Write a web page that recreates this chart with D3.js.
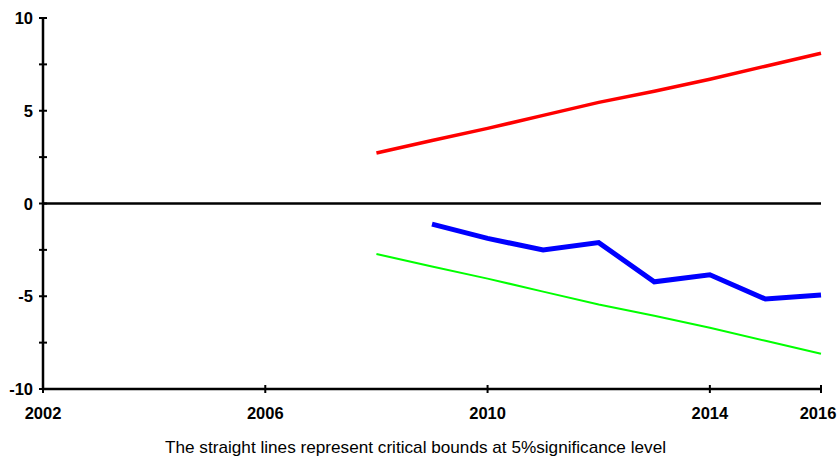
<!DOCTYPE html>
<html><head><meta charset="utf-8">
<script src="https://cdn.jsdelivr.net/npm/d3@7"></script>
<style>body{margin:0;background:#fff;} svg{display:block;}</style>
</head><body>
<svg id="c" width="840" height="458"></svg>
<script>
const years = [2008, 2009, 2010, 2011, 2012, 2013, 2014, 2015, 2016];
const upperBound = [2.72, 3.4, 4.05, 4.75, 5.45, 6.05, 6.7, 7.4, 8.1];
const lowerBound = [-2.72, -3.4, -4.05, -4.75, -5.45, -6.05, -6.7, -7.4, -8.1];
const statYears = [2009, 2010, 2011, 2012, 2013, 2014, 2015, 2016];
const statValues = [-1.11, -1.88, -2.51, -2.11, -4.22, -3.84, -5.15, -4.93];
const xTicks = [2002, 2006, 2010, 2014, 2016];
const yTicks = [-10, -5, 0, 5, 10];
const yMinorTicks = [-10, -7.5, -5, -2.5, 0, 2.5, 5, 7.5, 10];
const caption = "The straight lines represent critical bounds at 5%significance level";

const svg = d3.select("#c");
const x = d3.scaleLinear().domain([2002, 2016]).range([43, 821]);
const y = d3.scaleLinear().domain([-10, 10]).range([389, 18]);

svg.append("line").attr("x1", x(2002)).attr("x2", x(2002)).attr("y1", y(10)).attr("y2", y(-10))
  .attr("stroke", "#000").attr("stroke-width", 2.5);
svg.append("line").attr("x1", x(2002)).attr("x2", x(2016)).attr("y1", y(-10)).attr("y2", y(-10))
  .attr("stroke", "#000").attr("stroke-width", 2.5);
svg.append("line").attr("x1", x(2002)).attr("x2", x(2016)).attr("y1", y(0)).attr("y2", y(0))
  .attr("stroke", "#000").attr("stroke-width", 2.5);

svg.selectAll(".yt").data(yMinorTicks).enter().append("line")
  .attr("x1", x(2002) - 4).attr("x2", x(2002) + 4)
  .attr("y1", d => y(d)).attr("y2", d => y(d))
  .attr("stroke", "#000").attr("stroke-width", 2);
svg.selectAll(".yl").data(yTicks).enter().append("text")
  .attr("x", 33).attr("y", d => y(d) + 6)
  .attr("text-anchor", "end")
  .attr("font-family", "Liberation Sans, Arial, sans-serif")
  .attr("font-weight", "bold").attr("font-size", 16.5)
  .text(d => d);

svg.selectAll(".xt").data(xTicks).enter().append("line")
  .attr("x1", d => x(d)).attr("x2", d => x(d))
  .attr("y1", y(-10) - 4).attr("y2", y(-10) + 4)
  .attr("stroke", "#000").attr("stroke-width", 2);
svg.selectAll(".xl").data(xTicks).enter().append("text")
  .attr("x", d => x(d) - (d === 2016 ? 3 : 0)).attr("y", 419)
  .attr("text-anchor", "middle")
  .attr("font-family", "Liberation Sans, Arial, sans-serif")
  .attr("font-weight", "bold").attr("font-size", 16.5)
  .text(d => d);

const line = d3.line().x(d => x(d[0])).y(d => y(d[1]));
svg.append("path").datum(years.map((d, i) => [d, upperBound[i]]))
  .attr("d", line).attr("fill", "none").attr("stroke", "#ff0000").attr("stroke-width", 3.5);
svg.append("path").datum(years.map((d, i) => [d, lowerBound[i]]))
  .attr("d", line).attr("fill", "none").attr("stroke", "#00ff00").attr("stroke-width", 2);
svg.append("path").datum(statYears.map((d, i) => [d, statValues[i]]))
  .attr("d", line).attr("fill", "none").attr("stroke", "#0000ff").attr("stroke-width", 5);

svg.append("text").attr("x", 165).attr("y", 453).attr("text-anchor", "start")
  .attr("font-family", "Liberation Sans, Arial, sans-serif").attr("font-size", 17)
  .attr("textLength", 501).attr("lengthAdjust", "spacingAndGlyphs")
  .text(caption);
</script>
</body></html>
